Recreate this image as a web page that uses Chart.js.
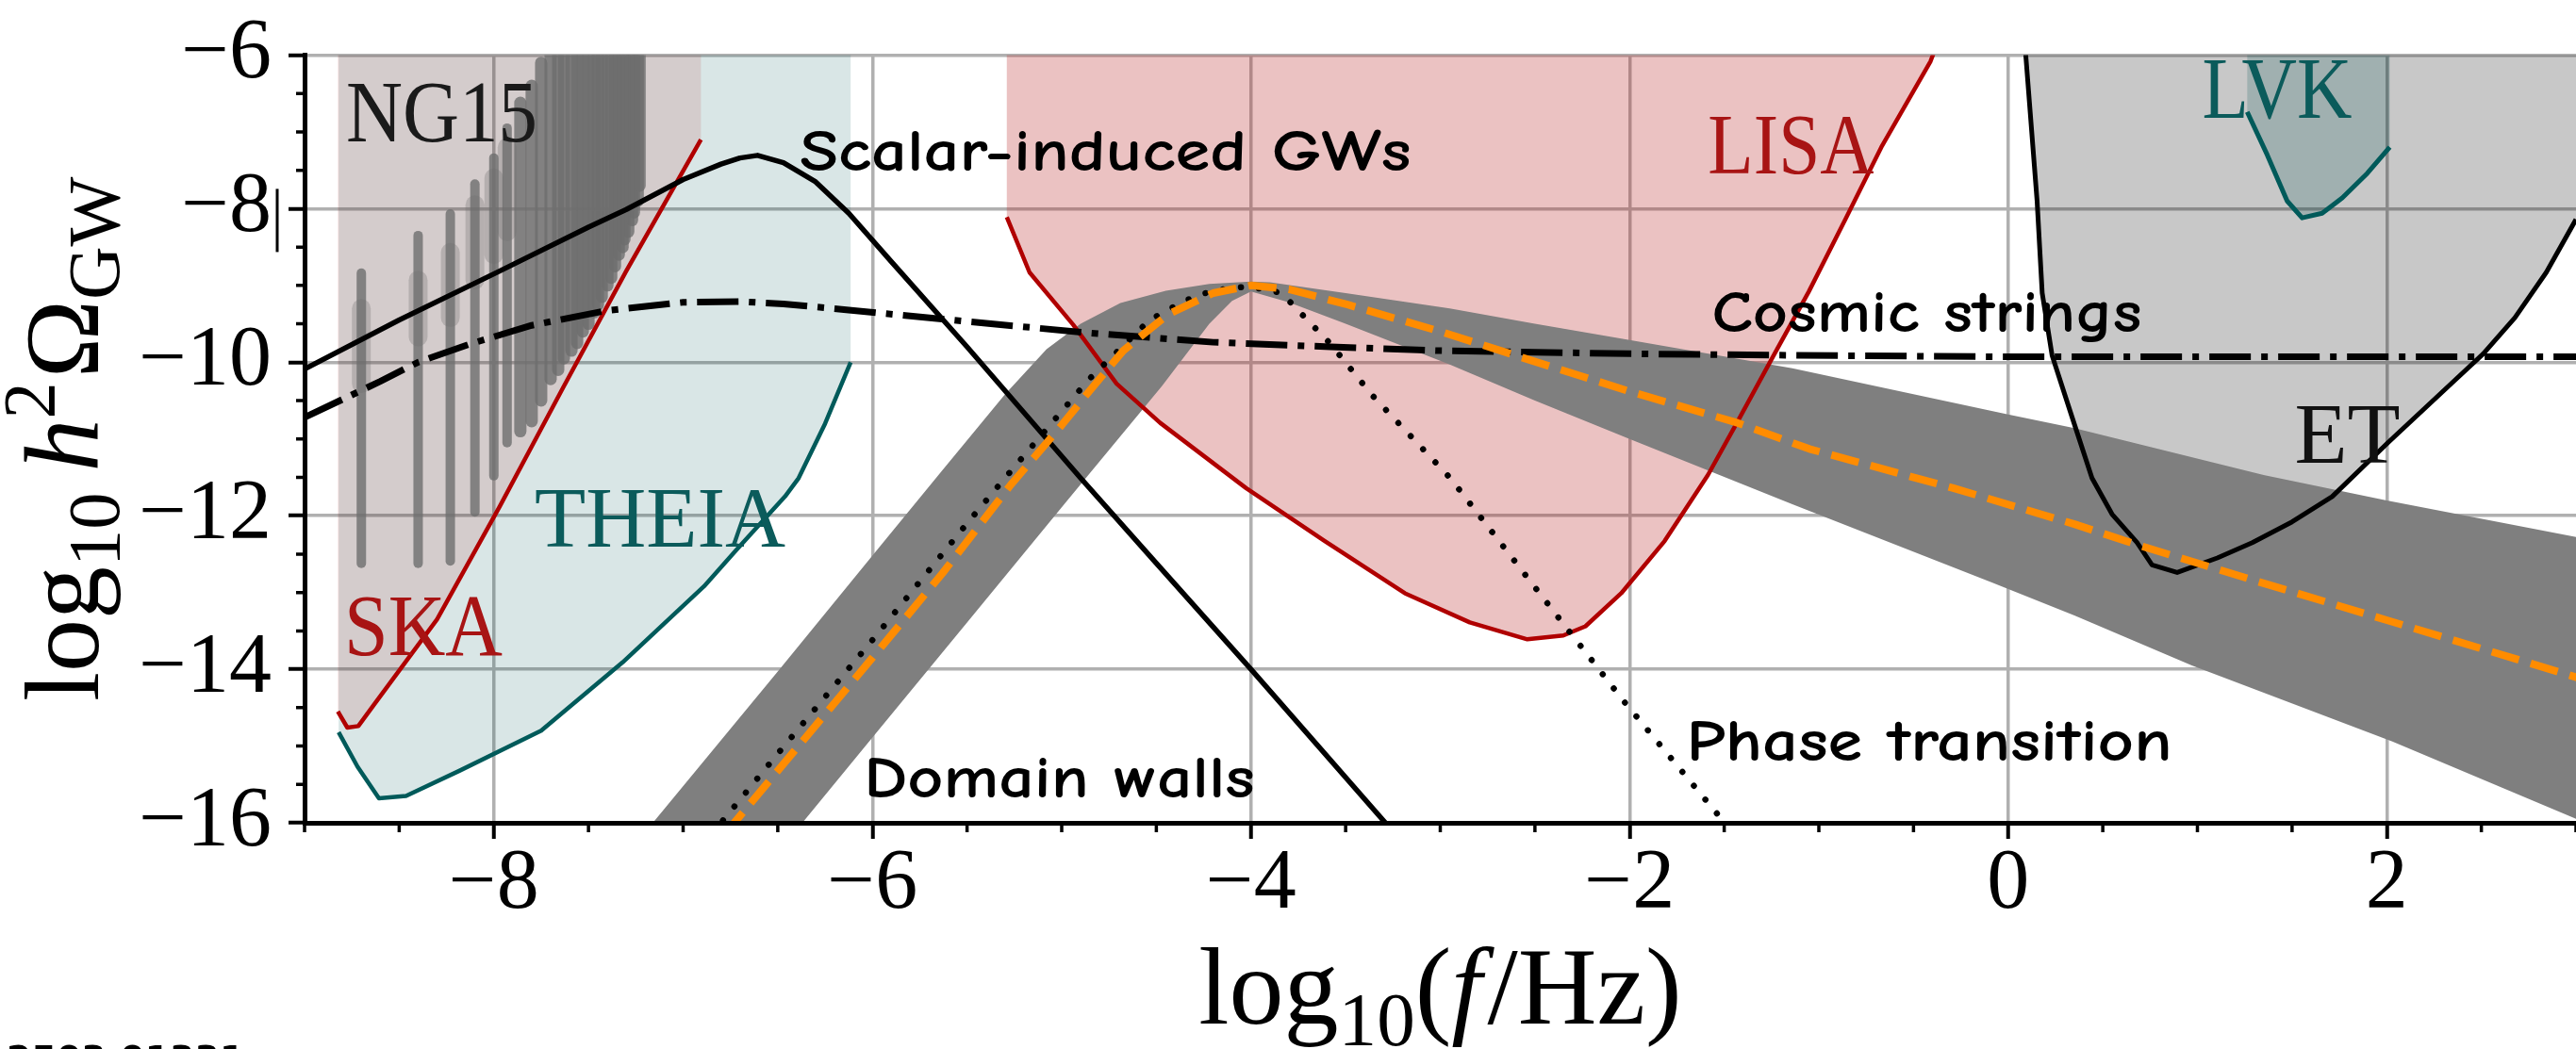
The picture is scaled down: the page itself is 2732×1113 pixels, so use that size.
<!DOCTYPE html>
<html>
<head>
<meta charset="utf-8">
<script src="https://cdn.jsdelivr.net/npm/chart.js@4.4.1/dist/chart.umd.min.js"></script>
<style>
html,body{margin:0;padding:0;background:#ffffff;}
#box{position:relative;width:2732px;height:1113px;overflow:hidden;background:#fff;}
canvas{display:block;}
</style>
</head>
<body>
<div id="box"><canvas id="chart" width="2732" height="1113"></canvas></div>
<script>
// ---------------- axis ranges & ticks ----------------
const X_MIN = -9, X_MAX = 3, Y_MIN = -16, Y_MAX = -6;
const xTicks = [-8, -6, -4, -2, 0, 2];
const yTicks = [-16, -14, -12, -10, -8, -6];
const xMinorTicks = [-9, -8.5, -7.5, -7, -6.5, -5.5, -5, -4.5, -3.5, -3, -2.5, -1.5, -1, -0.5, 0.5, 1, 1.5, 2.5, 3];
const yMinorTicks = [-15.5, -15, -14.5, -13.5, -13, -12.5, -11.5, -11, -10.5, -9.5, -9, -8.5, -7.5, -7, -6.5];

// ---------------- curves (log10 f, log10 h^2 Omega) ----------------
// Scalar-induced GWs
const sigwX = [-9, -8.5, -8, -7.5, -7.3, -7.0, -6.8, -6.7, -6.607, -6.47, -6.3, -6.125, -5.9, -5.5, -4.9, -4.5, -4, -3.29, -3.2];
const sigwY = [-10.09, -9.45, -8.85, -8.24, -8.01, -7.62, -7.42, -7.34, -7.306, -7.40, -7.65, -8.06, -8.69, -9.80, -11.51, -12.62, -14.0, -16.0, -16.25];
// Cosmic strings
const csX = [-9, -8.6, -8.4, -8.135, -7.8, -7.41, -7.0, -6.7, -6.47, -6.125, -5.5, -4.85, -4.2, -3.58, -3, -2, -1.14, 0, 1, 2, 3];
const csY = [-10.72, -10.25, -10.0, -9.77, -9.52, -9.33, -9.22, -9.21, -9.24, -9.32, -9.47, -9.62, -9.74, -9.80, -9.85, -9.89, -9.91, -9.93, -9.93, -9.93, -9.93];
// Phase transition (dotted)
const ptX = [-6.85, -6.5, -6.0, -5.5, -5.30, -4.855, -4.536, -4.35, -4.218, -4.1, -4.027, -3.95, -3.838, -3.71, -3.584, -3.36, -2.947, -2.34, -2.026, -1.518, -1.5];
const ptY = [-16.15, -15.1, -13.62, -12.1, -11.51, -10.22, -9.45, -9.2, -9.08, -9.03, -9.02, -9.04, -9.10, -9.43, -9.75, -10.43, -11.51, -13.44, -14.43, -15.94, -16.0];
// Domain walls (orange dashed, band centre)
const dwX = [-6.78, -6.73, -6.0, -5.63, -5.27, -5.0, -4.855, -4.675, -4.44, -4.2, -4.0, -3.8, -3.49, -3.0, -2.58, -2.0, -1.43, -1.05, -0.29, 0.35, 0.71, 1.35, 2.0, 2.93, 3.05];
const dwY = [-16.15, -16.0, -13.85, -12.75, -11.6, -10.82, -10.38, -9.85, -9.38, -9.1, -9.0, -9.05, -9.25, -9.6, -9.93, -10.38, -10.79, -11.13, -11.64, -12.11, -12.40, -12.88, -13.36, -14.05, -14.14];
// Domain-wall band: upper edge (left to right) and lower edge (right to left)
const bandUpX = [-7.26, -7.16, -6.49, -6.0, -5.648, -5.3, -5.08, -4.9, -4.69, -4.45, -4.22, -4.0, -3.9, -3.5, -2.95, -2.5, -2.0, -1.14, 0, 0.35, 1.35, 2.0, 3.05];
const bandUpY = [-16.3, -16, -14, -12.52, -11.46, -10.42, -9.83, -9.5, -9.23, -9.07, -8.98, -8.95, -8.96, -9.1, -9.3, -9.5, -9.71, -10.08, -10.68, -10.86, -11.47, -11.8, -12.3];
const bandLoX = [3.05, 2.03, 0.97, 0.35, -0.086, -1.14, -2.0, -2.5, -2.95, -3.5, -3.8, -4.0, -4.1, -4.22, -4.47, -4.886, -5.0, -5.5, -6.0, -6.37, -6.47];
const bandLoY = [-16.0, -14.94, -13.95, -13.3, -12.87, -11.85, -11.0, -10.5, -10.03, -9.5, -9.22, -9.08, -9.2, -9.5, -10.31, -11.55, -11.89, -13.39, -14.89, -16, -16.3];

// ---------------- sensitivity curves ----------------
const skaX = [-8.824, -8.774, -8.716, -8.633, -8.30, -7.969, -7.636, -7.30, -6.906];
const skaY = [-14.55, -14.76, -14.74, -14.46, -13.35, -11.88, -10.34, -8.81, -7.10];
const theiaX = [-8.82, -8.72, -8.607, -8.464, -8.18, -7.75, -7.32, -6.89, -6.72, -6.462, -6.39, -6.25, -6.115];
const theiaY = [-14.82, -15.27, -15.68, -15.65, -15.32, -14.80, -13.91, -12.92, -12.45, -11.75, -11.51, -10.8, -10.0];
const lisaX = [-5.29, -5.17, -4.94, -4.71, -4.48, -4.026, -3.61, -3.187, -2.844, -2.54, -2.35, -2.233, -2.044, -1.815, -1.586, -1.433, -1.243, -1.053, -0.86, -0.67, -0.41, -0.39];
const lisaY = [-8.11, -8.83, -9.51, -10.28, -10.79, -11.64, -12.33, -13.01, -13.39, -13.61, -13.56, -13.44, -13.01, -12.33, -11.47, -10.79, -9.93, -9.08, -8.14, -7.2, -6.08, -5.95];
const etX = [0.09, 0.095, 0.153, 0.18, 0.232, 0.337, 0.443, 0.549, 0.681, 0.76, 0.893, 1.105, 1.29, 1.5, 1.712, 2.01, 2.345, 2.51, 2.677, 2.843, 3.0, 3.05];
const etY = [-5.9, -6.06, -7.9, -9.1, -9.91, -10.71, -11.51, -11.98, -12.35, -12.64, -12.74, -12.55, -12.35, -12.08, -11.75, -11.04, -10.27, -9.89, -9.42, -8.83, -8.14, -7.9];
const lvkX = [1.263, 1.369, 1.474, 1.553, 1.659, 1.765, 1.897, 2.016];
const lvkY = [-6.74, -7.30, -7.90, -8.12, -8.06, -7.86, -7.54, -7.20];

// ---------------- NG15 free-spectrum violins ----------------
const ng15X = [-8.70, -8.40, -8.23, -8.10, -8.00, -7.93, -7.86, -7.80, -7.75, -7.70, -7.66, -7.63, -7.59, -7.56, -7.53, -7.50, -7.47, -7.45, -7.43, -7.40, -7.38, -7.36, -7.34, -7.32, -7.31, -7.29, -7.27, -7.26, -7.24, -7.23];
const ng15Top = [-8.84, -8.35, -8.07, -7.68, -7.34, -6.95, -6.62, -6.40, -6.1, -5.8, -5.8, -5.8, -5.8, -5.8, -5.8, -5.8, -5.8, -5.8, -5.8, -5.8, -5.8, -5.8, -5.8, -5.8, -5.8, -5.8, -5.8, -5.8, -5.8, -5.8];
const ng15Bottom = [-12.62, -12.62, -12.59, -11.95, -11.48, -11.05, -10.9, -10.77, -10.5, -10.22, -10.1, -9.95, -9.85, -9.75, -9.6, -9.5, -9.35, -9.25, -9.15, -9.0, -8.9, -8.75, -8.6, -8.5, -8.4, -8.3, -8.15, -8.05, -7.9, -7.7];
const ng15BulgeTop = [-9.30, -8.93, -8.57, -7.95, -7.6, -7.2];
const ng15BulgeBottom = [-10.28, -9.67, -9.42, -8.93, -8.6, -8.3];

// ---------------- styling ----------------
const SERIF = '"Liberation Serif", "DejaVu Serif", serif';
const COMIC = '"Comic Sans MS", "Comic Neue", "Open Sans", sans-serif';
const RED = '#b00000', TEAL = '#005a5a', TEXTRED = '#a81414', TEXTTEAL = '#0b5b5b';

const pts = (xs, ys) => xs.map((x, i) => ({x: x, y: ys[i]}));
const closeTop = (xs, ys) => [{x: xs[0], y: Y_MAX + 0.1}].concat(pts(xs, ys), [{x: xs[xs.length - 1], y: Y_MAX + 0.1}]);

function fillSet(data, color, order) {
  return {data: data, showLine: true, fill: 'shape', backgroundColor: color, borderColor: 'rgba(0,0,0,0)',
          borderWidth: 0, pointRadius: 0, order: order, clip: 0, tension: 0};
}
function lineSet(data, color, width, order, extra) {
  return Object.assign({data: data, showLine: true, fill: false, borderColor: color, borderWidth: width,
          pointRadius: 0, order: order, clip: 0, tension: 0, borderJoinStyle: 'round'}, extra || {});
}

const datasets = [];
// region fills
datasets.push(fillSet(closeTop(etX, etY), 'rgba(0,0,0,0.215)', 40));
datasets.push(fillSet(closeTop(lvkX, lvkY), 'rgba(0,80,80,0.20)', 39));
datasets.push(fillSet(closeTop(lisaX, lisaY), 'rgba(180,30,30,0.27)', 38));
datasets.push(fillSet(closeTop(theiaX, theiaY), 'rgba(0,90,90,0.15)', 37));
datasets.push(fillSet(closeTop(skaX, skaY), 'rgba(180,30,30,0.13)', 36));
// NG15 violins
ng15X.forEach((x, i) => {
  const w = i < 6 ? 10 : 13;
  datasets.push(lineSet([{x: x, y: ng15Bottom[i]}, {x: x, y: ng15Top[i]}], 'rgba(110,110,110,0.8)', w, 30, {borderCapStyle: 'round'}));
  if (i < ng15BulgeTop.length) {
    datasets.push(lineSet([{x: x, y: ng15BulgeBottom[i]}, {x: x, y: ng15BulgeTop[i]}], 'rgba(110,110,110,0.3)', 20, 29, {borderCapStyle: 'round'}));
  }
});
// domain-wall band
datasets.push(fillSet(pts(bandUpX, bandUpY).concat(pts(bandLoX, bandLoY)), '#7f7f7f', 20));
// sensitivity boundary curves
datasets.push(lineSet(pts(skaX, skaY), RED, 4.5, 10));
datasets.push(lineSet(pts(theiaX, theiaY), TEAL, 4.5, 10));
datasets.push(lineSet(pts(lisaX, lisaY), RED, 4.5, 10));
datasets.push(lineSet(pts(etX, etY), '#000', 5, 10));
datasets.push(lineSet(pts(lvkX, lvkY), TEAL, 5, 10));
// model curves
datasets.push(lineSet(pts(csX, csY), '#000', 7, 5, {borderDash: [44, 11, 7, 11]}));
datasets.push(lineSet(pts(sigwX, sigwY), '#000', 5.5, 4));
datasets.push(lineSet(pts(ptX, ptY), '#000', 6.5, 3, {borderDash: [0.1, 19], borderCapStyle: 'round'}));
datasets.push(lineSet(pts(dwX, dwY), '#ff8c00', 8, 2, {borderDash: [30, 13]}));

// ---------------- annotations ----------------
const labelSpecs = [
  {t: 'NG15', x0: -8.781, x1: -7.769, y: -7.12, font: SERIF, size: 94, color: '#1a1a1a', weight: ''},
  {t: 'SKA', x0: -8.791, x1: -7.954, y: -13.81, font: SERIF, size: 94, color: TEXTRED, weight: ''},
  {t: 'THEIA', x0: -7.784, x1: -6.459, y: -12.40, font: SERIF, size: 92, color: TEXTTEAL, weight: ''},
  {t: 'LISA', x0: -1.586, x1: -0.709, y: -7.54, font: SERIF, size: 92, color: TEXTRED, weight: ''},
  {t: 'LVK', x0: 1.025, x1: 1.817, y: -6.82, font: SERIF, size: 94, color: TEXTTEAL, weight: ''},
  {t: 'ET', x0: 1.513, x1: 2.071, y: -11.31, font: SERIF, size: 92, color: '#111', weight: ''},
  {t: 'Scalar-induced GWs', x0: -6.384, x1: -3.155, y: -7.50, font: COMIC, size: 62, color: '#000', weight: '600 '},
  {t: 'Cosmic strings', x0: -1.566, x1: 0.706, y: -9.60, font: COMIC, size: 62, color: '#000', weight: '600 '},
  {t: 'Domain walls', x0: -6.045, x1: -3.98, y: -15.67, font: COMIC, size: 62, color: '#000', weight: '600 '},
  {t: 'Phase transition', x0: -1.70, x1: 0.866, y: -15.19, font: COMIC, size: 62, color: '#000', weight: '600 '}
];

const fmt = v => (v < 0 ? '\u2212' + Math.abs(v) : String(v));

const annotPlugin = {
  id: 'annot',
  afterDatasetsDraw(chart) {
    const ctx = chart.ctx, xs = chart.scales.x, ys = chart.scales.y;
    ctx.save();
    ctx.textBaseline = 'alphabetic';
    ctx.textAlign = 'left';
    labelSpecs.forEach(l => {
      ctx.font = l.weight + l.size + 'px ' + l.font;
      const w = ctx.measureText(l.t).width;
      const px0 = xs.getPixelForValue(l.x0), px1 = xs.getPixelForValue(l.x1);
      const py = ys.getPixelForValue(l.y);
      ctx.save();
      ctx.translate(px0, py);
      ctx.scale((px1 - px0) / w, 1);
      ctx.fillStyle = l.color;
      ctx.fillText(l.t, 0, 0);
      ctx.restore();
    });
    ctx.restore();
  }
};

function richWidth(ctx, parts) {
  let total = 0;
  parts.forEach(p => {
    ctx.font = (p.style || '') + ' ' + p.size + 'px ' + SERIF;
    p.w = ctx.measureText(p.t).width + (p.dx || 0);
    total += p.w;
  });
  return total;
}
function drawRich(ctx, parts, cx, baseY) {
  const total = richWidth(ctx, parts);
  let x = cx - total / 2;
  parts.forEach(p => {
    ctx.font = (p.style || '') + ' ' + p.size + 'px ' + SERIF;
    ctx.fillText(p.t, x, baseY + (p.dy || 0));
    x += p.w;
  });
}

const axisPlugin = {
  id: 'axisDeco',
  afterDraw(chart) {
    const ctx = chart.ctx, xs = chart.scales.x, ys = chart.scales.y, a = chart.chartArea;
    ctx.save();
    // minor ticks
    ctx.strokeStyle = '#000';
    ctx.lineWidth = 3.5;
    ctx.beginPath();
    xMinorTicks.forEach(v => { const p = xs.getPixelForValue(v); ctx.moveTo(p, a.bottom); ctx.lineTo(p, a.bottom + 10); });
    yMinorTicks.forEach(v => { const p = ys.getPixelForValue(v); ctx.moveTo(a.left, p); ctx.lineTo(a.left - 9, p); });
    ctx.stroke();
    // small stray bar next to the -8 label
    const p8 = ys.getPixelForValue(-8);
    ctx.lineWidth = 3;
    ctx.beginPath(); ctx.moveTo(a.left - 29, p8 - 21); ctx.lineTo(a.left - 29, p8 + 46); ctx.stroke();

    ctx.fillStyle = '#000';
    ctx.textBaseline = 'alphabetic';
    ctx.textAlign = 'left';
    const S = 116;
    // x title
    drawRich(ctx, [
      {t: 'log', size: S}, {t: '10', size: S * 0.7, dy: S * 0.2}, {t: '(', size: S},
      {t: 'f', size: S, style: 'italic', dx: 6}, {t: '/Hz)', size: S}
    ], (a.left + a.right) / 2, 1086);
    // y title
    ctx.save();
    ctx.translate(104, (a.top + a.bottom) / 2);
    ctx.rotate(-Math.PI / 2);
    const T = 112;
    drawRich(ctx, [
      {t: 'log', size: T}, {t: '10', size: T * 0.7, dy: T * 0.2, dx: 22}, {t: 'h', size: T, style: 'italic'},
      {t: '2', size: T * 0.7, dy: -T * 0.42, dx: 4}, {t: '\u03A9', size: T}, {t: 'GW', size: T * 0.7, dy: T * 0.2}
    ], 0, 0);
    ctx.restore();
    // cut-off footer text
    ctx.font = 'bold 38px "DejaVu Sans", sans-serif';
    ctx.textBaseline = 'top';
    ctx.fillText('2503.01331', 7, 1107);
    ctx.restore();
  }
};

new Chart(document.getElementById('chart'), {
  type: 'scatter',
  data: {datasets: datasets},
  options: {
    responsive: false,
    animation: false,
    devicePixelRatio: 1,
    events: [],
    layout: {padding: {top: 42, left: 0, right: 0, bottom: 0}},
    plugins: {legend: {display: false}, tooltip: {enabled: false}, title: {display: false}},
    scales: {
      x: {
        type: 'linear', min: X_MIN, max: X_MAX,
        afterBuildTicks: s => { s.ticks = xTicks.map(v => ({value: v})); },
        afterFit: s => { s.height = 240; },
        grid: {color: '#b0b0b0', lineWidth: 3.5, drawTicks: true, tickLength: 17, tickWidth: 4, tickColor: '#000'},
        border: {display: true, color: '#000', width: 5, z: 1},
        ticks: {font: {family: SERIF, size: 90, lineHeight: 1}, color: '#000', padding: 4, maxRotation: 0, callback: fmt}
      },
      y: {
        type: 'linear', min: Y_MIN, max: Y_MAX,
        afterBuildTicks: s => { s.ticks = yTicks.map(v => ({value: v})); },
        afterFit: s => { s.width = 323; },
        grid: {color: '#b0b0b0', lineWidth: 3.5, drawTicks: true, tickLength: 17, tickWidth: 4, tickColor: '#000'},
        border: {display: true, color: '#000', width: 5, z: 1},
        ticks: {font: {family: SERIF, size: 90, lineHeight: 0.9}, color: '#000', padding: 18, callback: fmt}
      }
    }
  },
  plugins: [annotPlugin, axisPlugin]
});
</script>
</body>
</html>
